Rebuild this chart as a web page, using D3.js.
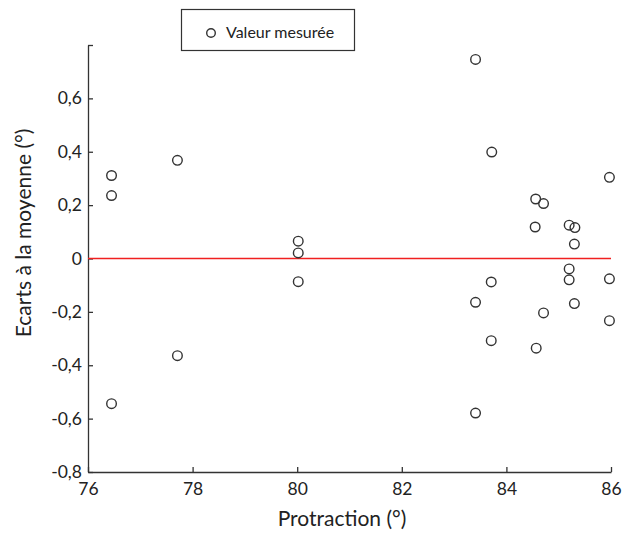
<!DOCTYPE html>
<html><head><meta charset="utf-8">
<script src="https://cdn.jsdelivr.net/npm/d3@7"></script>
<style>body{margin:0;background:#fff}svg{display:block}text{font-family:Lato,"Open Sans",sans-serif;fill:#222}</style>
</head><body><svg id="c" width="628" height="533"></svg>
<script>
const protraction = [76.45,76.45,76.45, 77.71,77.71, 80.02,80.02,80.02,
  83.41,83.72,85.97,84.56,84.71,84.55,85.20,85.31,85.30,85.20,85.20,85.97,83.71,83.41,85.30,84.71,85.97,83.71,84.57,83.41];
const ecarts = [0.311,0.236,-0.544, 0.368,-0.364, 0.065,0.021,-0.087,
  0.746,0.399,0.304,0.223,0.206,0.118,0.125,0.116,0.054,-0.039,-0.080,-0.076,-0.088,-0.164,-0.169,-0.204,-0.233,-0.308,-0.336,-0.579];
const xTicks = [76,78,80,82,84,86];
const yTicks = [-0.8,-0.6,-0.4,-0.2,0,0.2,0.4,0.6,0.8];
const legendLabel = "Valeur mesurée";
const xTitle = "Protraction (°)";
const yTitle = "Ecarts à la moyenne (°)";

const svg = d3.select("#c");
const x = d3.scaleLinear().domain([76,86]).range([88,611]);
const y = d3.scaleLinear().domain([-0.8,0.8]).range([472,45]);
const fmt = v => v===0 ? "0" : d3.format(".1f")(v).replace(".",",").replace("−","-");

const xa = svg.append("g").attr("transform",`translate(0,${y(-0.8)})`)
  .call(d3.axisBottom(x).tickValues(xTicks).tickSize(-5).tickSizeOuter(0).tickPadding(11).tickFormat(d=>d));
const ya = svg.append("g").attr("transform",`translate(${x(76)},0)`)
  .call(d3.axisLeft(y).tickValues(yTicks).tickSize(-5).tickSizeOuter(0).tickPadding(6).tickFormat(d=>d===0.8?"":fmt(d)));
[xa,ya].forEach(a=>{a.selectAll("path,line").attr("stroke","#333").attr("stroke-width",1.3);
  a.selectAll("text").attr("font-size",17.5).attr("fill","#222").style("font-family","Lato");});

svg.append("line").attr("x1",x(76)).attr("x2",x(86)).attr("y1",y(0)).attr("y2",y(0))
  .attr("stroke","#f02020").attr("stroke-width",1.3);

svg.append("g").selectAll("circle").data(protraction).join("circle")
  .attr("cx",d=>x(d)).attr("cy",(d,i)=>y(ecarts[i])).attr("r",4.8)
  .attr("fill","none").attr("stroke","#333").attr("stroke-width",1.4);

svg.append("text").attr("x",342).attr("y",526).attr("text-anchor","middle").attr("font-size",21).text(xTitle);
svg.append("text").attr("transform","translate(31,233) rotate(-90)").attr("text-anchor","middle").attr("font-size",21).text(yTitle);

const lg = svg.append("g");
lg.append("rect").attr("x",181.5).attr("y",9.5).attr("width",173).attr("height",41).attr("fill","#fff").attr("stroke","#333").attr("stroke-width",1.2);
lg.append("circle").attr("cx",211).attr("cy",33).attr("r",4.3).attr("fill","none").attr("stroke","#333").attr("stroke-width",1.4);
lg.append("text").attr("x",226).attr("y",38).attr("font-size",16).text(legendLabel);
</script></body></html>
